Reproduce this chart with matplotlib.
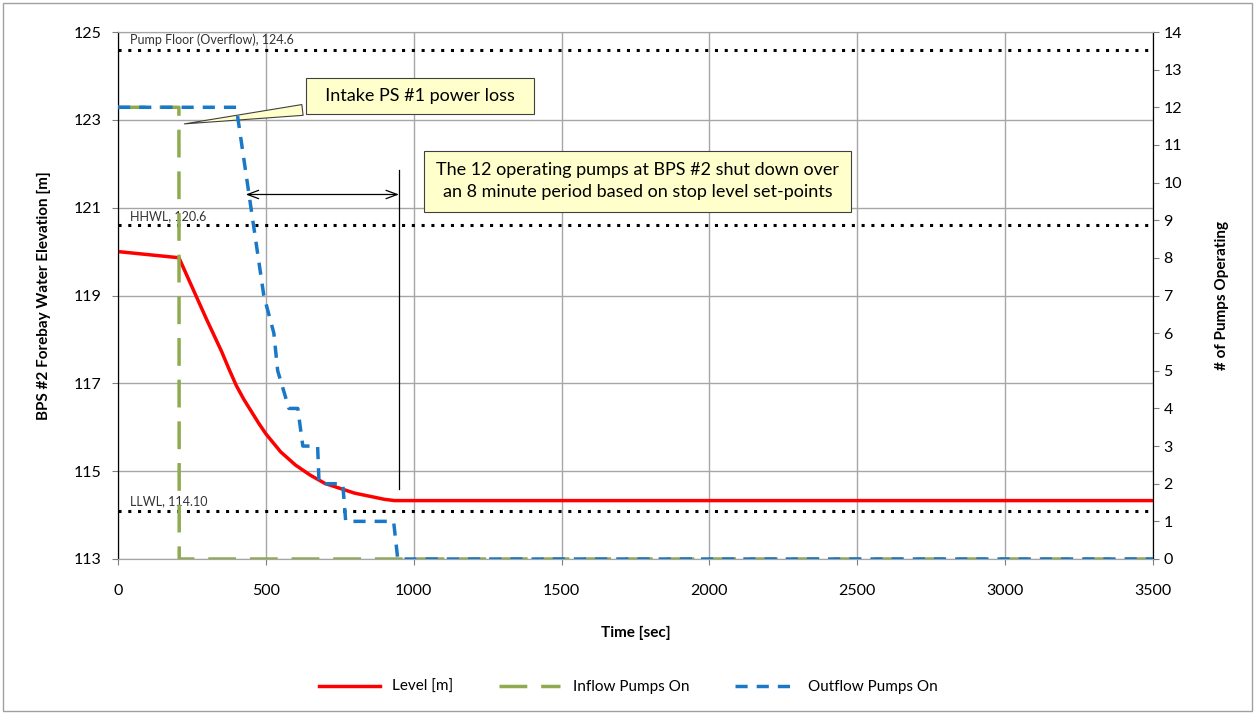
import matplotlib.pyplot as plt
from matplotlib.patches import Rectangle

plt.rcParams['font.family'] = ['Lato', 'DejaVu Sans']

# Forebay level [m] vs time [s]
level_t = [0, 206, 250, 300, 350, 375, 400, 425, 450, 475, 500, 550, 600, 650, 700, 800, 900, 935, 3500]
level_m = [120.0, 119.86, 119.2, 118.45, 117.73, 117.33, 116.95, 116.64, 116.37, 116.1, 115.85,
           115.44, 115.14, 114.91, 114.72, 114.50, 114.36, 114.33, 114.33]

# Inflow pumps (Intake PS #1)
inflow_t = [0, 206, 207, 3500]
inflow_n = [12, 12, 0, 0]

# Outflow pumps (BPS #2)
outflow_t = [0, 400, 493, 527, 540, 578, 608, 625, 675, 680, 760, 770, 932, 946, 3500]
outflow_n = [12, 12, 7, 6, 5, 4, 4, 3, 3, 2, 2, 1, 1, 0, 0]

# Reference levels
ref_names = ['Pump Floor (Overflow), 124.6', 'HHWL, 120.6', 'LLWL, 114.10']
ref_levels = [124.6, 120.6, 114.1]

fig = plt.figure(figsize=(12.57, 7.15), dpi=100)
ax = fig.add_axes([118 / 1257, 1 - 559 / 715, (1153 - 118) / 1257, (559 - 32) / 715])
ax2 = ax.twinx()

ax.set_xlim(0, 3500)
ax.set_ylim(113, 125)
ax.set_xticks(range(0, 3501, 500))
ax.set_yticks(range(113, 126, 2))
ax.grid(True, color='#a6a6a6', linewidth=1)
ax.set_axisbelow(True)

ax2.set_ylim(0, 14)
ax2.set_yticks(range(0, 15))

for name, lev in zip(ref_names, ref_levels):
    ax.axhline(lev, color='black', linestyle=(0, (1, 2.2)), linewidth=2.2, zorder=2)
    ax.text(40, lev + 0.08, name, fontsize=9, color='#333333', va='bottom', ha='left')

l1, = ax.plot(level_t, level_m, color='#ff0000', linewidth=2.5, label='Level [m]', zorder=4)
l2, = ax2.plot(inflow_t, inflow_n, color='#8faa4f', linewidth=2.5, dashes=(8, 4),
               label='Inflow Pumps On', zorder=3)
l3, = ax2.plot(outflow_t, outflow_n, color='#1a78c8', linewidth=2.5, dashes=(3.5, 2.6),
               label='Outflow Pumps On', zorder=3)

box = dict(boxstyle='square,pad=0.55', fc='#ffffcc', ec='#404040', lw=0.8)
ax.annotate('  Intake PS #1 power loss  ', xy=(215, 122.9), xytext=(1020, 123.54),
            fontsize=13, ha='center', va='center', bbox=box,
            arrowprops=dict(arrowstyle='wedge,tail_width=0.6,shrink_factor=0.5',
                            fc='#ffffcc', ec='#404040', lw=0.8))
ax.text(1757, 121.6,
        'The 12 operating pumps at BPS #2 shut down over\nan 8 minute period based on stop level set-points',
        fontsize=13, ha='center', va='center', linespacing=1.45,
        bbox=dict(boxstyle='square,pad=0.65', fc='#ffffcc', ec='#404040', lw=0.8), zorder=5)

ax.annotate('', xy=(432, 121.3), xytext=(950, 121.3),
            arrowprops=dict(arrowstyle='<->,head_length=0.8,head_width=0.3', color='black',
                            lw=0.9, shrinkA=0, shrinkB=0))
ax.plot([950, 950], [121.85, 114.6], color='black', linewidth=0.9, zorder=5)

ax.set_xlabel('Time [sec]', fontsize=11, fontweight='bold', labelpad=20)
ax.set_ylabel('BPS #2 Forebay Water Elevation [m]', fontsize=11, fontweight='bold', labelpad=16)
ax2.set_ylabel('# of Pumps Operating', fontsize=11, fontweight='bold', labelpad=24)

for a in (ax, ax2):
    a.tick_params(labelsize=11.5, length=4, color='#808080')
    a.spines['top'].set_color('#a6a6a6')
    a.spines['bottom'].set_color('#a6a6a6')
    a.spines['left'].set_color('black')
    a.spines['right'].set_color('black')
ax.tick_params(axis='x', pad=14)
ax.tick_params(axis='y', pad=8)

fig.legend(handles=[l1, l2, l3], loc='center', bbox_to_anchor=(0.5, 1 - 687 / 715),
           ncol=3, frameon=False, fontsize=11, handlelength=4, columnspacing=3)

fig.add_artist(Rectangle((0.002, 0.006), 0.994, 0.99, transform=fig.transFigure,
                         fill=False, ec='#a0a0a0', lw=1))

fig.savefig('out.png', dpi=100)
